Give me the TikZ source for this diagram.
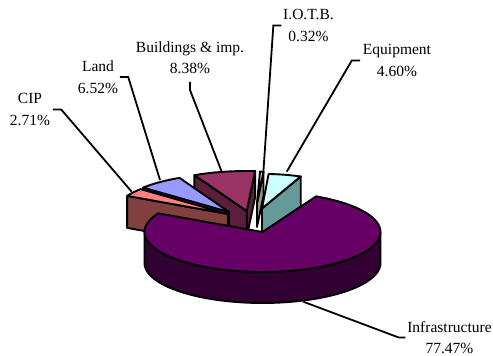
\documentclass[tikz,border=0pt]{standalone}
\usepackage{fontspec}
\setmainfont{Liberation Serif}
\usetikzlibrary{calc}
\definecolor{inftop}{HTML}{660066}
\definecolor{infside}{HTML}{330033}
\definecolor{eqtop}{HTML}{CCFFFF}
\definecolor{eqside}{HTML}{669999}
\definecolor{iotop}{HTML}{CCCC99}
\definecolor{ioside}{HTML}{999977}
\definecolor{bldtop}{HTML}{993366}
\definecolor{bldside}{HTML}{5C1E3D}
\definecolor{landtop}{HTML}{9999FF}
\definecolor{landside}{HTML}{5C5CA6}
\definecolor{ciptop}{HTML}{FF8080}
\definecolor{cipside}{HTML}{804040}
\tikzset{
  pieedge/.style={draw=black, line width=1.9pt, line join=round},
  leader/.style={draw=black, line width=1.8pt, line join=miter},
  lbl/.style={align=center, inner sep=0pt, font=\fontsize{15.5}{21.5}\selectfont}
}
\begin{document}
\begin{tikzpicture}[x=1pt, y=-1pt]
\useasboundingbox (0,0) rectangle (493,356);
\fill[white] (0,0) rectangle (493,356);

% ---------- I.O.T.B. ----------
\coordinate (ioP) at (257,203);
\coordinate (ioA) at (263.5,172);
\coordinate (ioB) at (260,171.5);
\filldraw[pieedge, fill=ioside] (ioP) -- (ioA) -- ++(0,24) -- ($(ioP)+(0,24)$) -- cycle;
\filldraw[pieedge, fill=iotop] (ioP) -- (ioB) -- (ioA) -- cycle;

% ---------- Equipment ----------
\coordinate (eP) at (262,208.5);
\coordinate (eO1) at ({262+102*cos(67.7)},{208.5-34.6*sin(67.7)});
\filldraw[pieedge, fill=eqside] (eP) -- (eO1) -- ++(0,30) -- ($(eP)+(0,30)$) -- cycle;
\filldraw[pieedge, fill=eqtop] (eP) -- plot[domain=67.7:86.3, samples=20] ({262+102*cos(\x)},{208.5-34.6*sin(\x)}) -- cycle;

% ---------- Buildings & imp. ----------
\coordinate (bP) at (246.7,211);
\coordinate (bO1) at ({246.7+118*cos(85.9)},{211-40*sin(85.9)});
\coordinate (bO2) at ({246.7+118*cos(116.3)},{211-40*sin(116.3)});
\filldraw[pieedge, fill=bldside] (bP) -- (bO1) -- ++(0,26) -- ($(bP)+(0,26)$) -- cycle;
\filldraw[pieedge, fill=bldside] (bP) -- (bO2) -- ++(0,26) -- ($(bP)+(0,26)$) -- cycle;
\filldraw[pieedge, fill=bldtop] (bP) -- plot[domain=85.9:116.3, samples=30] ({246.7+118*cos(\x)},{211-40*sin(\x)}) -- cycle;

% ---------- Land ----------
\coordinate (lP) at (229,212);
\coordinate (lO2) at ({229+112*cos(140.1)},{212-38*sin(140.1)});
\filldraw[pieedge, fill=landside] (lP) -- (lO2) -- ++(0,27) -- ($(lP)+(0,27)$) -- cycle;
\filldraw[pieedge, fill=landtop] (lP) -- plot[domain=116.2:140.1, samples=30] ({229+112*cos(\x)},{212-38*sin(\x)}) -- cycle;

% ---------- CIP ----------
\coordinate (cP) at (228,214);
\coordinate (cO2) at ({228+114*cos(152.2)},{214-38.8*sin(152.2)});
\filldraw[pieedge, fill=cipside] (cP) -- (cO2) -- ++(0,32) -- ($(cP)+(0,32)$) -- cycle;
\filldraw[pieedge, fill=ciptop] (cP) -- plot[domain=140.1:152.2, samples=15] ({228+114*cos(\x)},{214-38.8*sin(\x)}) -- cycle;

% ---------- Infrastructure ----------
\coordinate (iP) at (262.5,232);
\filldraw[pieedge, fill=infside] plot[domain=180:360, samples=80] ({262.5+118*cos(\x)},{232-40*sin(\x)})
  -- plot[domain=360:180, samples=80] ({262.5+118*cos(\x)},{263-40*sin(\x)}) -- cycle;
\filldraw[pieedge, fill=inftop] (iP) -- plot[domain=152.2:423, samples=120] ({262.5+118*cos(\x)},{232-40*sin(\x)}) -- cycle;

% ---------- labels ----------
\node[lbl] (liotb) at (308.5,25.5) {I.O.T.B.\\0.32\%};
\node[lbl] (leq) at (397,60.5) {Equipment\\4.60\%};
\node[lbl] (lbld) at (190,57.5) {Buildings \& imp.\\8.38\%};
\node[lbl] (lland) at (98,77) {Land\\6.52\%};
\node[lbl] (lcip) at (30,109.5) {CIP\\2.71\%};
\node[lbl] (linf) at (449.5,337.5) {Infrastructure\\77.47\%};

% ---------- leader lines ----------
\coordinate (ioPt) at (263.3,173);
\coordinate (eqPt) at (286.7,171.7);
\coordinate (bldPt) at (221.7,171.7);
\coordinate (bldMid) at (190,90);
\coordinate (landPt) at (160,180);
\coordinate (cipPt) at (131.7,191.7);
\coordinate (infPt) at (303.3,301.7);

\draw[leader] (liotb.west) ++(-1.7,0) -- ++(-8,0) -- (ioPt);
\draw[leader] (leq.west) ++(-2.7,0) -- ++(-8.3,0) -- (eqPt);
\draw[leader] ([yshift=-8pt]lbld.south) -- (bldMid) -- (bldPt);
\draw[leader] (lland.east) ++(1.7,0) -- ++(8.3,0) -- (landPt);
\draw[leader] (lcip.east) ++(2.6,0) -- ++(8.4,0) -- (cipPt);
\draw[leader] (linf.west) ++(-1.7,0) -- ++(-6.7,0) -- (infPt);
\end{tikzpicture}
\end{document}
